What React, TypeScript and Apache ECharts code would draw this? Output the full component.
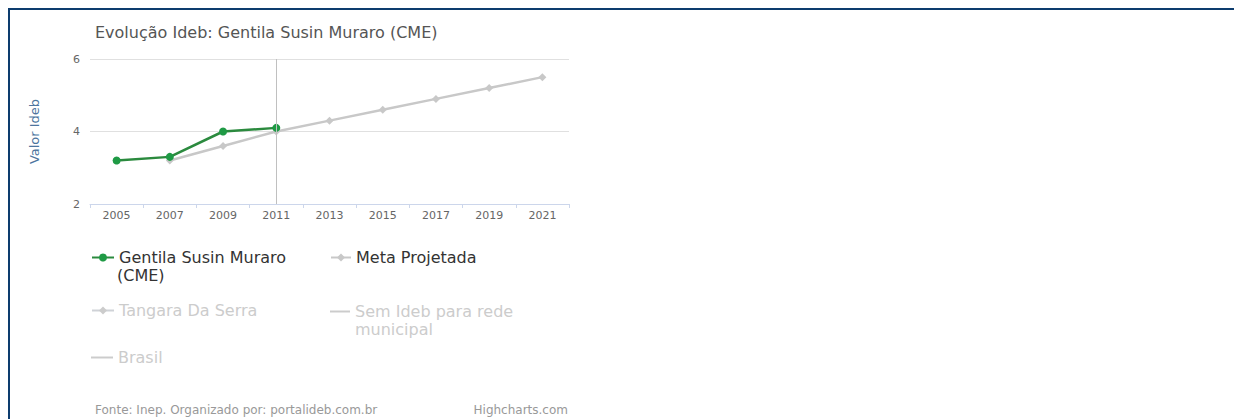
import React, { useEffect, useRef } from "react";
import * as echarts from "echarts";

const categories = ["2005", "2007", "2009", "2011", "2013", "2015", "2017", "2019", "2021"];
const escolaValues = [3.2, 3.3, 4.0, 4.1, null, null, null, null, null];
const metaValues = [null, 3.2, 3.6, 4.0, 4.3, 4.6, 4.9, 5.2, 5.5];
const yTicks = [2, 4, 6];

const FONT = "'DejaVu Sans', Verdana, sans-serif";

export default function App() {
  const ref = useRef<HTMLDivElement>(null);
  useEffect(() => {
    if (!ref.current) return;
    const chart = echarts.init(ref.current, undefined, { renderer: "svg" });
    const legendBase = {
      orient: "horizontal",
      padding: 0,
      itemGap: 0,
      itemHeight: 10,
      inactiveColor: "#cccccc",
      textStyle: { fontFamily: FONT, fontSize: 16, color: "#333333", lineHeight: 17 },
    };
    chart.setOption({
      animation: false,
      backgroundColor: "#ffffff",
      title: {
        text: "Evolução Ideb: Gentila Susin Muraro (CME)",
        left: 85,
        top: 14,
        padding: 0,
        textStyle: { fontFamily: FONT, fontSize: 16, fontWeight: "normal", color: "#555555" },
      },
      grid: { left: 80, top: 49, width: 479, height: 145, containLabel: false },
      xAxis: {
        type: "category",
        data: categories,
        boundaryGap: true,
        axisLine: { lineStyle: { color: "#ccd6eb", width: 1 } },
        axisTick: { show: true, length: 4, lineStyle: { color: "#ccd6eb" } },
        axisLabel: { fontFamily: FONT, fontSize: 11, color: "#666666", margin: 6 },
        splitLine: { show: false },
      },
      yAxis: {
        type: "value",
        min: yTicks[0],
        max: yTicks[yTicks.length - 1],
        interval: 2,
        name: "Valor Ideb",
        nameLocation: "middle",
        nameGap: 49,
        nameRotate: 90,
        nameTextStyle: { fontFamily: FONT, fontSize: 13, color: "#4d759e" },
        axisLine: { show: false },
        axisTick: { show: false },
        axisLabel: { fontFamily: FONT, fontSize: 11, color: "#666666", margin: 10 },
        splitLine: { lineStyle: { color: "#e0e0e0", width: 1 } },
      },
      legend: [
        {
          ...legendBase,
          left: 81,
          top: 239,
          itemWidth: 22,
          data: ["Gentila Susin Muraro (CME)"],
          formatter: () => "Gentila Susin Muraro",
        },
        {
          ...legendBase,
          left: 320,
          top: 239,
          itemWidth: 20,
          data: ["Meta Projetada"],
        },
        {
          ...legendBase,
          left: 81,
          top: 292,
          itemWidth: 22,
          data: ["Tangara Da Serra"],
          selected: { "Tangara Da Serra": false },
        },
        {
          ...legendBase,
          left: 320,
          top: 293,
          itemWidth: 20,
          itemHeight: 2,
          data: [{ name: "Sem Ideb para rede municipal", icon: "rect" }],
          selected: { "Sem Ideb para rede municipal": false },
          formatter: () => "Sem Ideb para rede",
        },
        {
          ...legendBase,
          left: 81,
          top: 339,
          itemWidth: 22,
          itemHeight: 2,
          data: [{ name: "Brasil", icon: "rect" }],
          selected: { Brasil: false },
        },
      ],
      graphic: [
        {
          type: "text",
          left: 107,
          top: 257,
          style: { text: "(CME)", font: `16px ${FONT}`, fill: "#333333" },
        },
        {
          type: "text",
          left: 345,
          top: 311,
          style: { text: "municipal", font: `16px ${FONT}`, fill: "#cccccc" },
        },
        {
          type: "text",
          left: 85,
          top: 394,
          style: { text: "Fonte: Inep. Organizado por: portalideb.com.br", font: `12px ${FONT}`, fill: "#999999" },
        },
        {
          type: "text",
          right: 1232 - 558,
          top: 394,
          style: { text: "Highcharts.com", font: `12px ${FONT}`, fill: "#999999" },
        },
      ],
      series: [
        {
          name: "Meta Projetada",
          type: "line",
          data: metaValues,
          symbol: "diamond",
          symbolSize: 8,
          itemStyle: { color: "#c8c8c8" },
          lineStyle: { color: "#c8c8c8", width: 2.5 },
          z: 2,
        },
        {
          name: "Gentila Susin Muraro (CME)",
          type: "line",
          data: escolaValues,
          symbol: "circle",
          symbolSize: 8,
          itemStyle: { color: "#1f9a45" },
          lineStyle: { color: "#2b8a3e", width: 2.5 },
          z: 3,
          markLine: {
            silent: true,
            symbol: "none",
            label: { show: false },
            lineStyle: { color: "#c0c0c0", width: 1, type: "solid" },
            data: [{ xAxis: "2011" }],
          },
        },
        {
          name: "Tangara Da Serra",
          type: "line",
          data: [],
          symbol: "diamond",
          itemStyle: { color: "#999999" },
        },
        {
          name: "Sem Ideb para rede municipal",
          type: "line",
          data: [],
          symbol: "none",
          itemStyle: { color: "#999999" },
        },
        {
          name: "Brasil",
          type: "line",
          data: [],
          symbol: "none",
          itemStyle: { color: "#999999" },
        },
      ],
    });
    return () => chart.dispose();
  }, []);
  return (
    <div
      style={{
        width: 1234,
        height: 411,
        borderTop: "2px solid #0d3c6e",
        borderLeft: "2px solid #0d3c6e",
        boxSizing: "border-box",
        overflow: "hidden",
      }}
    >
      <div ref={ref} style={{ width: 1232, height: 409 }} />
    </div>
  );
}
